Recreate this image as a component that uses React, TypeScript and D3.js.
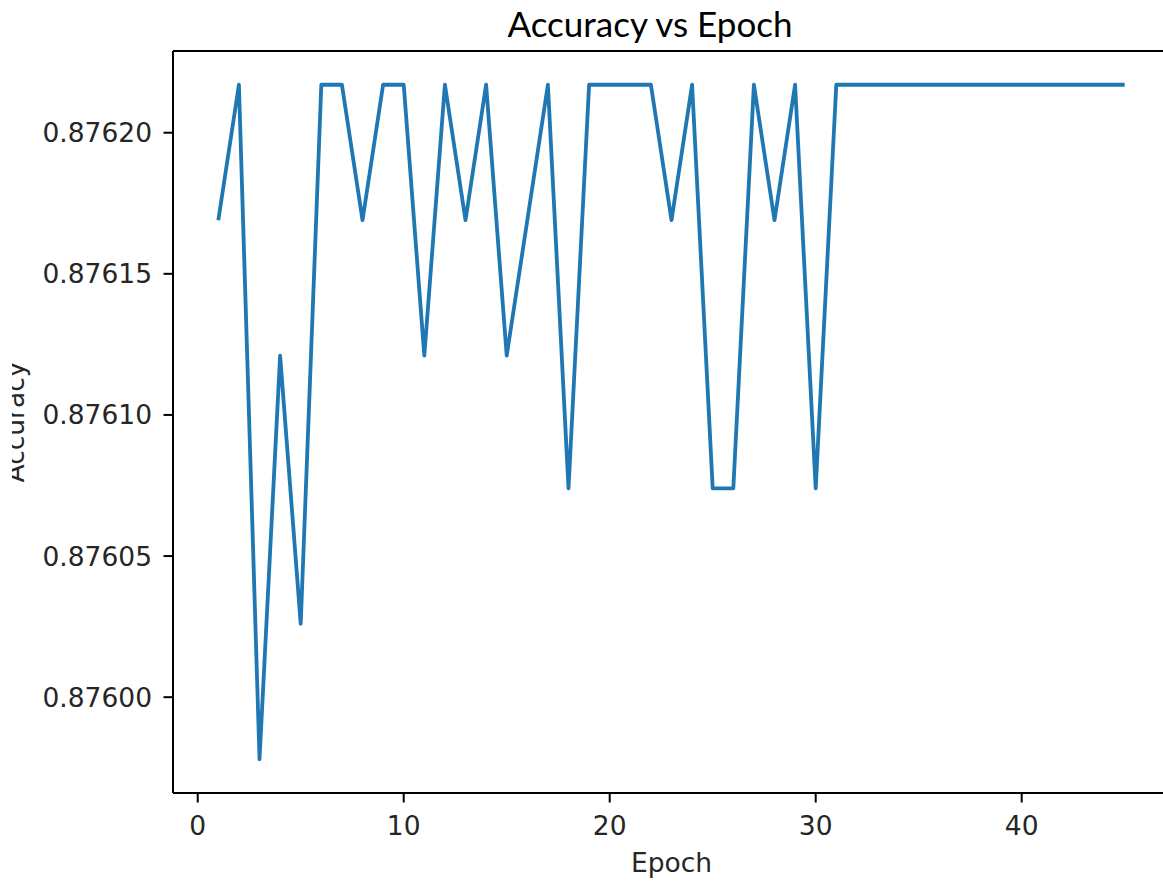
import React from "react";
import { scaleLinear, extent, line } from "d3";

const epochs = [
  1, 2, 3, 4, 5, 6, 7, 8, 9, 10, 11, 12, 13, 14, 15, 16, 17, 18, 19, 20, 21, 22, 23,
  24, 25, 26, 27, 28, 29, 30, 31, 32, 33, 34, 35, 36, 37, 38, 39, 40, 41, 42, 43, 44, 45,
];
const accuracy = [
  0.876169, 0.876217, 0.875978, 0.876121, 0.876026, 0.876217, 0.876217, 0.876169,
  0.876217, 0.876217, 0.876121, 0.876217, 0.876169, 0.876217, 0.876121, 0.876169,
  0.876217, 0.876074, 0.876217, 0.876217, 0.876217, 0.876217, 0.876169, 0.876217,
  0.876074, 0.876074, 0.876217, 0.876169, 0.876217, 0.876074, 0.876217, 0.876217,
  0.876217, 0.876217, 0.876217, 0.876217, 0.876217, 0.876217, 0.876217, 0.876217,
  0.876217, 0.876217, 0.876217, 0.876217, 0.876217,
];
const xTicks = [0, 10, 20, 30, 40];
const yTicks = [0.876, 0.87605, 0.8761, 0.87615, 0.8762];

const blue = "#1f77b4";
const font = "DejaVu Sans";

// matplotlib style 5% padding
const pad = (d: [number, number]) => {
  const m = (d[1] - d[0]) * 0.05;
  return [d[0] - m, d[1] + m];
};

export default function App() {
  const width = 1163;
  const height = 885;
  const left = 173;
  const right = 1170; // axes run past the cropped right edge
  const top = 51;
  const bottom = 793;

  const xScale = scaleLinear()
    .domain(pad(extent(epochs) as [number, number]))
    .range([left, right]);
  const yScale = scaleLinear()
    .domain(pad(extent(accuracy) as [number, number]))
    .range([bottom, top]);

  const path = line<number>()
    .x((d, i) => xScale(epochs[i]))
    .y((d) => yScale(d))(accuracy);

  return (
    <svg
      width={width}
      height={height}
      style={{ position: "absolute", left: 0, top: 0, background: "#fff" }}
    >
      <text
        x={650}
        y={37}
        textAnchor="middle"
        fontFamily="Lato"
        fontSize={35}
        fill="#000"
      >
        Accuracy vs Epoch
      </text>

      <path d={path || ""} fill="none" stroke={blue} strokeWidth={3.8} strokeLinejoin="round" />

      {/* spines */}
      <line x1={left} x2={left} y1={top} y2={bottom} stroke="#000" strokeWidth={2} />
      <line x1={left} x2={width} y1={bottom} y2={bottom} stroke="#000" strokeWidth={2} />
      <line x1={left} x2={width} y1={top} y2={top} stroke="#000" strokeWidth={2} />

      {xTicks.map((t) => (
        <g key={t} transform={`translate(${xScale(t)},${bottom})`}>
          <line y1={0} y2={9.5} stroke="#000" strokeWidth={2} />
          <text y={42} textAnchor="middle" fontFamily={font} fontSize={26.5} fill="#262626">
            {t}
          </text>
        </g>
      ))}

      {yTicks.map((t) => (
        <g key={t} transform={`translate(${left},${yScale(t)})`}>
          <line x1={0} x2={-9.5} stroke="#000" strokeWidth={2} />
          <text x={-21} dy="0.36em" textAnchor="end" fontFamily={font} fontSize={26.5} fill="#262626">
            {t.toFixed(5)}
          </text>
        </g>
      ))}

      <text
        x={(left + right) / 2}
        y={872}
        textAnchor="middle"
        fontFamily={font}
        fontSize={26.5}
        fill="#262626"
      >
        Epoch
      </text>

      <text
        transform={`translate(24,${(top + bottom) / 2}) rotate(-90)`}
        textAnchor="middle"
        fontFamily={font}
        fontSize={26.5}
        fill="#262626"
      >
        Accuracy
      </text>
      {/* left edge of the label is cut off in the original */}
      <rect x={0} y={0} width={12} height={height} fill="#fff" />
    </svg>
  );
}
